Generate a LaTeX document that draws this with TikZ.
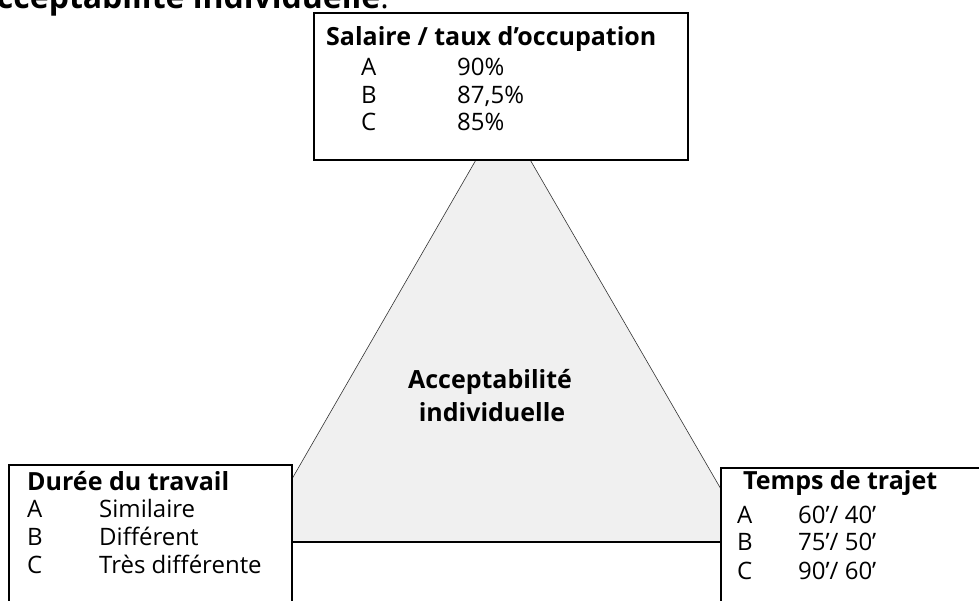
\documentclass[tikz,border=0pt]{standalone}
\usepackage{fontspec}
\setmainfont{Open Sans}
\begin{document}
\begin{tikzpicture}[x=1pt,y=-1pt,
  txt/.style={inner sep=0pt, anchor=base west, font=\fontsize{24}{28}\selectfont},
  ttl/.style={txt, font=\fontsize{25}{28}\selectfont\bfseries},
  boxline/.style={draw=black, line width=1.4pt, fill=white},
  triline/.style={draw=black!80, line width=0.6pt, fill=black!6}]
\useasboundingbox (0,0) rectangle (979,601);
% triangle
\coordinate (apex) at (503,113);
\coordinate (bl) at (255.6,542);
\coordinate (br) at (751.6,542);
\path[triline] (apex) -- (bl) -- (br) -- cycle;
\draw[line width=1.1pt] (bl) -- (br);
% header text (cut off at the top and left)
\node[inner sep=0pt, anchor=base east, font=\fontsize{32}{36}\selectfont] (hdr) at (389,9) {\textbf{Acceptabilité individuelle}.};
% boxes
\draw[boxline] (314,13) rectangle (688,160);
\draw[boxline] (9,465) -- (292,465) -- (292,610) -- (9,610) -- cycle;
\draw[boxline] (990,468) -- (721,468) -- (721,610) -- (990,610);
% top box text
\node[ttl] (t0) at (326,46) {Salaire / taux d’occupation};
\node[txt] (ta) at (361,76) {A};
\node[txt] (tb) at (361,103.5) {B};
\node[txt] (tc) at (361,131) {C};
\node[txt] (tav) at (457,76) {90\%};
\node[txt] (tbv) at (457,103.5) {87,5\%};
\node[txt] (tcv) at (457,131) {85\%};
% left box text
\node[ttl] (l0) at (27,490) {Durée du travail};
\node[txt] (la) at (27,517) {A};
\node[txt] (lb) at (27,545) {B};
\node[txt] (lc) at (27,573) {C};
\node[txt] (lav) at (99,517) {Similaire};
\node[txt] (lbv) at (99,545) {Différent};
\node[txt] (lcv) at (99,573) {Très différente};
% right box text
\node[ttl] (r0) at (743,489) {Temps de trajet};
\node[txt] (ra) at (737,523) {A};
\node[txt] (rb) at (737,550) {B};
\node[txt] (rc) at (737,579) {C};
\node[txt] (rav) at (798,523) {60’/ 40’};
\node[txt] (rbv) at (798,550) {75’/ 50’};
\node[txt] (rcv) at (798,579) {90’/ 60’};
% centre
\node[ttl, anchor=base] (c1) at (490,388) {Acceptabilité};
\node[ttl, anchor=base] (c2) at (492,421) {individuelle};
\end{tikzpicture}
\end{document}
